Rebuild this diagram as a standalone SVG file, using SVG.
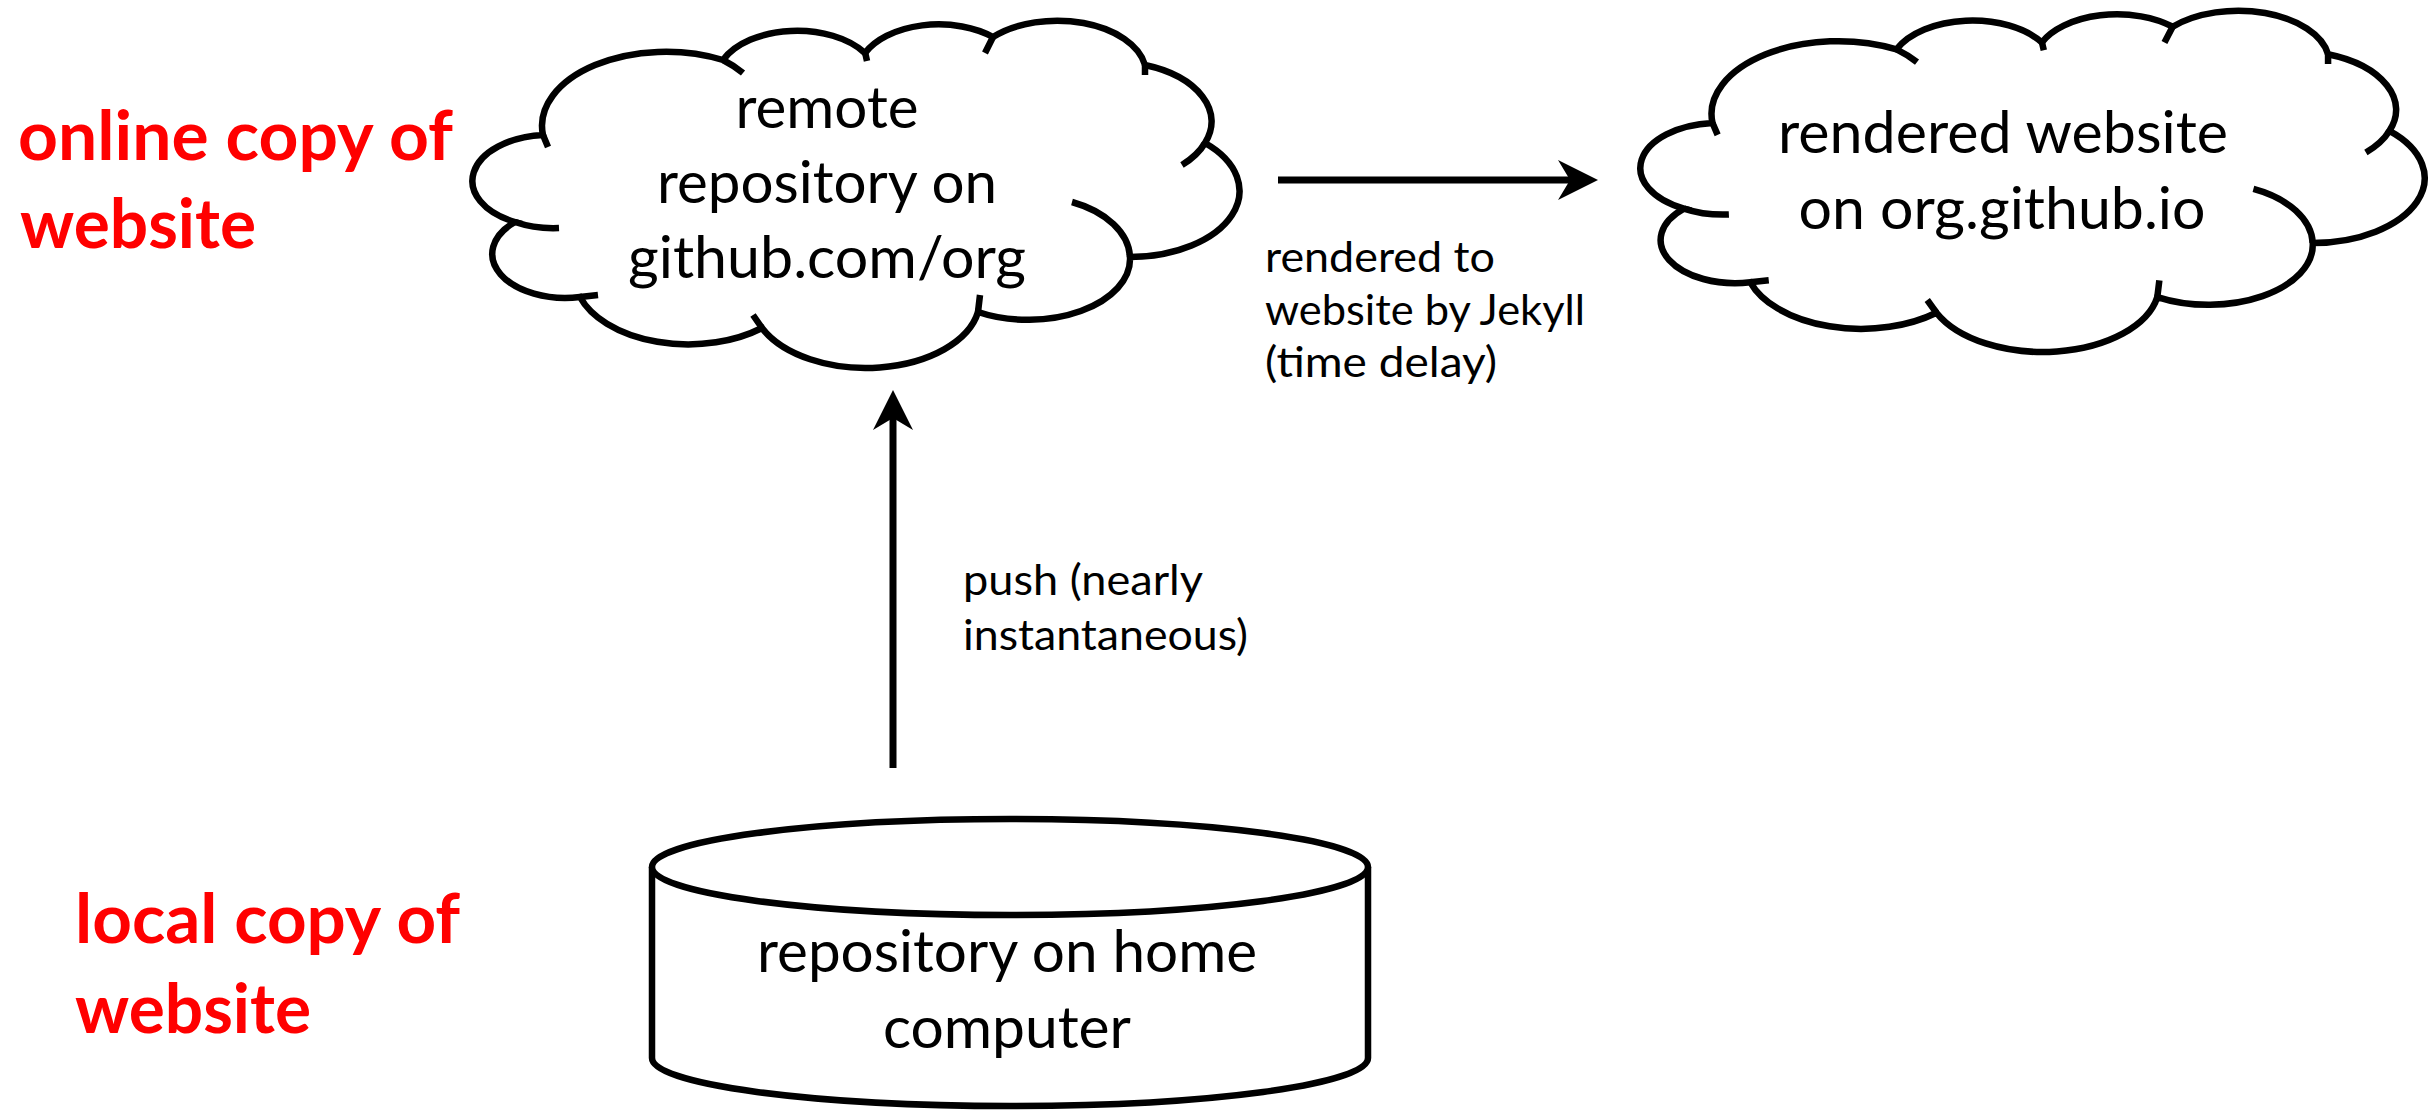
<svg xmlns="http://www.w3.org/2000/svg" xmlns:xlink="http://www.w3.org/1999/xlink" width="2433" height="1111" viewBox="0 0 2433 1111">
<style>
.outline{fill:#fff;stroke:#000;stroke-width:6.5;stroke-linejoin:miter}
.hook{fill:none;stroke:#000;stroke-width:6.5}
.ntext{font-family:Lato,"Liberation Sans",sans-serif;font-size:58px;fill:#000;text-anchor:middle}
.label{font-family:Lato,"Liberation Sans",sans-serif;font-size:43px;fill:#000}
.red{font-family:Lato,"Liberation Sans",sans-serif;font-weight:bold;font-size:68px;fill:#ff0000}
.conn{stroke:#000;stroke-width:7;fill:none}
</style>
<defs>
<marker id="arrow" markerUnits="userSpaceOnUse" viewBox="0 0 40 40" markerWidth="40" markerHeight="40" refX="12" refY="20" orient="auto">
<path d="M0,0 L40,20 L0,40 L12,20 Z" fill="#000"/>
</marker>
<g id="cloudShape">
<path class="outline" vector-effect="non-scaling-stroke" d="M543,135 A124,74 0 0 1 723,60 A81,49 0 0 1 865,53 A81,49 0 0 1 993,37 A89,53 0 0 1 1145,65 A100,60 0 0 1 1205,143 A110,66 0 0 1 1130,257 A102,61 0 0 1 978,312 A114,68 0 0 1 762,328 A114,69 0 0 1 580,297 A73,44 0 0 1 515,222 A77,46 0 0 1 543,135 Z"/>
<path class="hook" vector-effect="non-scaling-stroke" d="M723,60 A124,74 0 0 1 743,73 M865,52 L867,61 M993,37 L985,53 M1145,65 L1145,75 M1205,143 A100,60 0 0 1 1182,165 M1130,257 A97,62 0 0 0 1072,202 M978,312 L980,295 M762,328 L753,315 M580,297 L598,295 M515,222 A77,46 0 0 0 559,228 M543,135 L548,147"/>
</g>
</defs>
<rect width="2433" height="1111" fill="#fff"/>

<g id="connectors">
<line class="conn" x1="893" y1="768" x2="893" y2="418" marker-end="url(#arrow)"/>
<line class="conn" x1="1278" y1="180" x2="1570" y2="180" marker-end="url(#arrow)"/>
<text class="label" x="963" y="595" textLength="240" lengthAdjust="spacingAndGlyphs">push (nearly</text>
<text class="label" x="963" y="650" textLength="285" lengthAdjust="spacingAndGlyphs">instantaneous)</text>
<text class="label" x="1265" y="272" textLength="230" lengthAdjust="spacingAndGlyphs">rendered to</text>
<text class="label" x="1265" y="325" textLength="320" lengthAdjust="spacingAndGlyphs">website by Jekyll</text>
<text class="label" x="1265" y="377" textLength="232" lengthAdjust="spacingAndGlyphs">(time delay)</text>
</g>

<g id="remote-repo">
<use xlink:href="#cloudShape" href="#cloudShape"/>
<text class="ntext" x="827" y="128" textLength="183" lengthAdjust="spacingAndGlyphs">remote</text>
<text class="ntext" x="827" y="203" textLength="340" lengthAdjust="spacingAndGlyphs">repository on</text>
<text class="ntext" x="827" y="278" textLength="398" lengthAdjust="spacingAndGlyphs">github.com/org</text>
</g>

<g id="rendered-site">
<use xlink:href="#cloudShape" href="#cloudShape" transform="matrix(1.0225 0 0 0.983 1157.3 -9.66)"/>
<text class="ntext" x="2003" y="153" textLength="450" lengthAdjust="spacingAndGlyphs">rendered website</text>
<text class="ntext" x="2002" y="229" textLength="407" lengthAdjust="spacingAndGlyphs">on org.github.io</text>
</g>

<g id="local-repo">
<path class="outline" d="M652,867 L652,1058 A358,48 0 0 0 1368,1058 L1368,867"/>
<ellipse class="outline" cx="1010" cy="867" rx="358" ry="48"/>
<text class="ntext" x="1007" y="972" textLength="500" lengthAdjust="spacingAndGlyphs">repository on home</text>
<text class="ntext" x="1007" y="1048" textLength="248" lengthAdjust="spacingAndGlyphs">computer</text>
</g>

<g id="online-label">
<text class="red" x="18" y="160" textLength="435" lengthAdjust="spacingAndGlyphs">online copy of</text>
<text class="red" x="20" y="248" textLength="236" lengthAdjust="spacingAndGlyphs">website</text>
</g>
<g id="local-label">
<text class="red" x="75" y="943" textLength="385" lengthAdjust="spacingAndGlyphs">local copy of</text>
<text class="red" x="75" y="1033" textLength="236" lengthAdjust="spacingAndGlyphs">website</text>
</g>
</svg>
